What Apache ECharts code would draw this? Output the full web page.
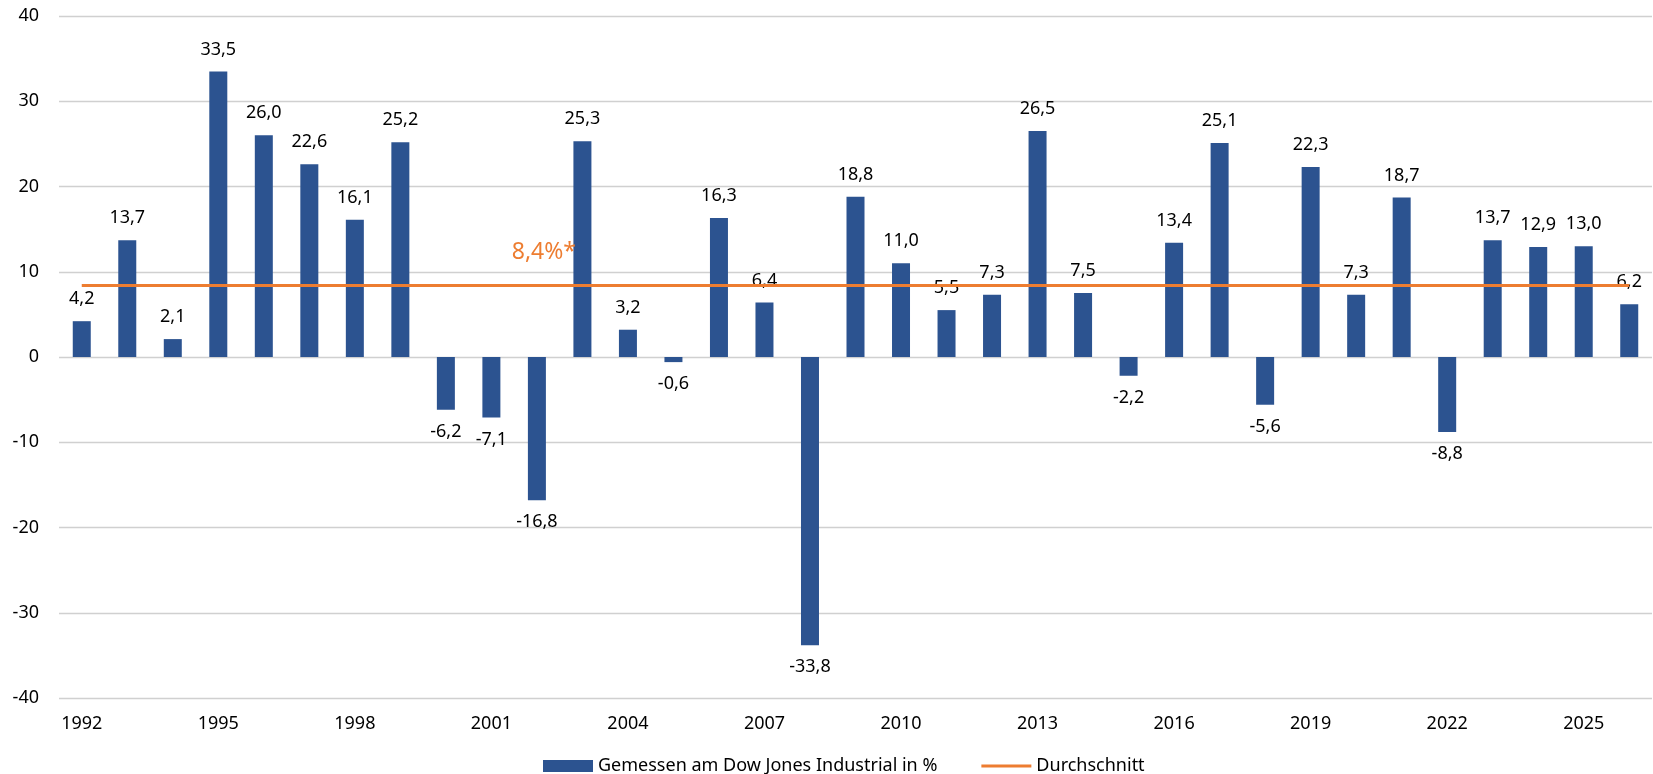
<!DOCTYPE html>
<html>
<head>
<meta charset="utf-8">
<script src="https://cdn.jsdelivr.net/npm/echarts@6/dist/echarts.min.js"></script>
<style>
html,body{margin:0;padding:0;background:#fff;}
#chart{width:1653px;height:774px;}
</style>
</head>
<body>
<div id="chart"></div>
<script>
const years = ['1992','1993','1994','1995','1996','1997','1998','1999','2000','2001','2002','2003','2004','2005','2006','2007','2008','2009','2010','2011','2012','2013','2014','2015','2016','2017','2018','2019','2020','2021','2022','2023','2024','2025','2026'];
const returns = [4.2,13.7,2.1,33.5,26.0,22.6,16.1,25.2,-6.2,-7.1,-16.8,25.3,3.2,-0.6,16.3,6.4,-33.8,18.8,11.0,5.5,7.3,26.5,7.5,-2.2,13.4,25.1,-5.6,22.3,7.3,18.7,-8.8,13.7,12.9,13.0,6.2];
const averageValue = 8.4;
const averageLabel = '8,4%*';
const averageLabelYear = '2002';
const yTicks = [-40,-30,-20,-10,0,10,20,30,40];
const barName = 'Gemessen am Dow Jones Industrial in %';
const lineName = 'Durchschnitt';

const FONT = '"Noto Sans", "Open Sans", sans-serif';
const fmt = v => v.toFixed(1).replace('.', ',');

const barData = returns.map(v => ({
  value: v,
  label: { position: v < 0 ? 'bottom' : 'top' }
}));
const lineData = years.map(() => averageValue);

const chart = echarts.init(document.getElementById('chart'), null, { renderer: 'canvas' });
chart.setOption({
  animation: false,
  backgroundColor: '#fff',
  grid: { left: 59, right: 1, top: 16, bottom: 76, containLabel: false },
  legend: {
    left: 543, top: 757, padding: 0,
    itemWidth: 50, itemHeight: 12, itemGap: 44,
    textStyle: { fontFamily: FONT, fontSize: 18, color: '#000' },
    data: [
      { name: barName, icon: 'rect' },
      { name: lineName, icon: 'path://M0,5 L50,5 L50,8 L0,8 Z' }
    ]
  },
  xAxis: {
    type: 'category',
    data: years,
    axisLine: { show: false },
    axisTick: { show: false },
    axisLabel: { interval: 2, color: '#000', fontFamily: FONT, fontSize: 18, margin: 17 },
    splitLine: { show: false }
  },
  yAxis: {
    type: 'value',
    min: yTicks[0], max: yTicks[yTicks.length - 1], interval: 10,
    axisLine: { show: false },
    axisTick: { show: false },
    axisLabel: { color: '#000', fontFamily: FONT, fontSize: 18, margin: 20 },
    splitLine: { lineStyle: { color: '#d0d0d0', width: 1.3 } }
  },
  series: [
    {
      name: barName,
      type: 'bar',
      data: barData,
      barWidth: 18,
      itemStyle: { color: '#2C5390' },
      label: { show: true, distance: 13, color: '#000', fontFamily: FONT, fontSize: 18,
               formatter: p => fmt(p.value) }
    },
    {
      name: lineName,
      type: 'line',
      data: lineData,
      symbol: 'none',
      lineStyle: { color: '#ED7D31', width: 3 },
      itemStyle: { color: '#ED7D31' },
      z: 3,
      markPoint: {
        symbol: 'circle',
        symbolSize: 0,
        silent: true,
        data: [{
          coord: [averageLabelYear, averageValue],
          label: { show: true, formatter: averageLabel, position: 'top', distance: 21, offset: [7, 0],
                   color: '#ED7D31', fontSize: 23, fontFamily: FONT }
        }]
      }
    }
  ]
});
</script>
</body>
</html>
